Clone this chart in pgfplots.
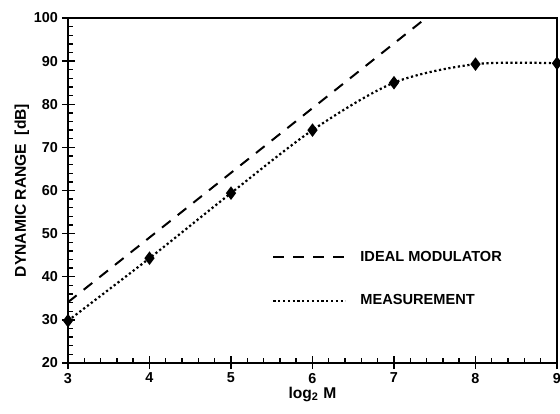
\documentclass[border=0pt]{standalone}
\usepackage{fontspec}
\setmainfont{Liberation Sans}
\usepackage{pgfplots}
\pgfplotsset{compat=1.18}

\begin{document}
\begin{tikzpicture}
\begin{axis}[
  scale only axis,
  width=244.5pt, height=172.5pt,
  xmin=3, xmax=9, ymin=20, ymax=100,
  xtick={3,4,...,9}, ytick={20,30,...,100},
  minor x tick num=4, minor y tick num=4,
  tick pos=left, tick align=inside,
  major tick length=3.5pt, minor tick length=2.5pt,
  every tick/.style={black, line width=0.7pt},
  extra x ticks={3,4,...,9}, extra y ticks={20,30,...,100},
  extra x tick labels={}, extra y tick labels={},
  extra tick style={tick align=outside, major tick length=3pt},
  axis line style={line width=0.7pt},
  /pgf/number format/assume math mode=true,
  tick label style={font=\bfseries\fontsize{7.2}{8}\selectfont},
  xticklabel style={yshift=-1.5pt},
  yticklabel style={xshift=-1.5pt},
  xlabel={log\textsubscript{2} M},
  ylabel={DYNAMIC RANGE\ \ [dB]},
  label style={font=\bfseries\fontsize{7.8}{9}\selectfont},
  xlabel style={yshift=8pt},
  ylabel style={yshift=-7.5pt},
  legend style={at={(rel axis cs:0.417,0.149)}, anchor=south west,
    draw=none, fill=none, inner sep=0pt, row sep=11pt,
    font=\bfseries\fontsize{7.3}{8.5}\selectfont},
  legend cell align=left,
  legend image code/.code={\draw[#1] (0pt,0pt) -- (36pt,0pt);
    \path[draw=none] (0pt,0pt) -- (41.5pt,0pt);},
]
\addplot[black, line width=1pt, dash pattern=on 5.5pt off 4.5pt]
  coordinates {(3,34.1) (7.4,100.1)};
\addlegendentry{IDEAL MODULATOR}
\addplot[black, line width=1.1pt, dash pattern=on 1.1pt off 1.3pt,
  smooth, tension=0.5,
  mark=diamond*, mark size=2.5pt,
  mark options={solid, fill=black}]
  coordinates {(3,29.8) (4,44.3) (5,59.4) (6,74.0) (7,85.0) (8,89.3) (9,89.5)};
\addlegendentry{MEASUREMENT}
\coordinate (bl) at (rel axis cs:0,0);
\coordinate (tr) at (rel axis cs:1,1);
\end{axis}
\pgfresetboundingbox
\path ([xshift=-34pt,yshift=-25pt]bl) rectangle ([xshift=1.5pt,yshift=9pt]tr);
\end{tikzpicture}
\end{document}
